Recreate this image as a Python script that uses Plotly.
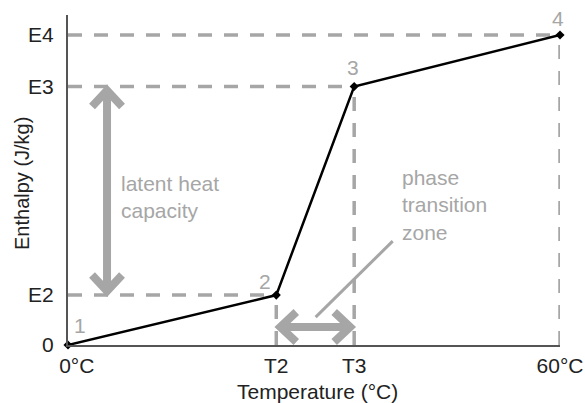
import plotly.graph_objects as go

# ---- data ----
temp_keys = ["\u00a0\u00a0\u00a00°C", "T2", "T3", "60°C"]
temperature = [0, 25.4, 34.9, 60]
enthalpy_keys = ["0", "E2", "E3", "E4"]
enthalpy = [0, 16.1, 83.4, 100]
point_labels = ["1", "2", "3", "4"]

# ---- layout constants ----
W, H = 585, 403
ML, MR, MT, MB = 68, 25, 15, 58
X_RANGE = [0, 60]
Y_RANGE = [0, 106.45]
PX_X = (W - ML - MR) / (X_RANGE[1] - X_RANGE[0])
PX_Y = (H - MT - MB) / (Y_RANGE[1] - Y_RANGE[0])

GRAY = "#a6a6a6"
FONT = "Liberation Sans, Arial, sans-serif"

fig = go.Figure()

# dashed guide lines
T0, T2, T3, T4 = temperature
E0, E2, E3, E4 = enthalpy
guides = [
    ([0, T2], [E2, E2]), ([0, T3], [E3, E3]), ([0, T4], [E4, E4]),
    ([T2, T2], [0, E2]), ([T3, T3], [0, E3]), ([T4, T4], [0, E4]),
]
for gx, gy in guides:
    fig.add_trace(go.Scatter(x=gx, y=gy, mode="lines",
                             line=dict(color=GRAY, width=3.5, dash="14px,12px"),
                             hoverinfo="skip", showlegend=False, cliponaxis=False))

# vertical double arrow (latent heat capacity)
AX = 4.76
tip_in = 4
arm_dx, arm_dy = 15, 16
sw = 8
fig.add_trace(go.Scatter(x=[AX, AX], y=[E2 + 3 / PX_Y, E3 - 3 / PX_Y], mode="lines",
                         line=dict(color=GRAY, width=sw), hoverinfo="skip",
                         showlegend=False))
for tip, sgn in [(E3, -1), (E2, 1)]:
    ty = tip + sgn * tip_in / PX_Y
    fig.add_trace(go.Scatter(
        x=[AX - arm_dx / PX_X, AX, AX + arm_dx / PX_X],
        y=[ty + sgn * arm_dy / PX_Y, ty, ty + sgn * arm_dy / PX_Y],
        mode="lines", line=dict(color=GRAY, width=sw), hoverinfo="skip",
        showlegend=False))

# horizontal double arrow (phase transition zone)
AY = 5.8
fig.add_trace(go.Scatter(x=[T2 + 3 / PX_X, T3 - 3 / PX_X], y=[AY, AY], mode="lines",
                         line=dict(color=GRAY, width=sw), hoverinfo="skip",
                         showlegend=False))
for tip, sgn in [(T2, 1), (T3, -1)]:
    tx = tip + sgn * tip_in / PX_X
    fig.add_trace(go.Scatter(
        x=[tx + sgn * arm_dy / PX_X, tx, tx + sgn * arm_dy / PX_X],
        y=[AY + arm_dx / PX_Y, AY, AY - arm_dx / PX_Y],
        mode="lines", line=dict(color=GRAY, width=sw), hoverinfo="skip",
        showlegend=False))

# leader line
fig.add_trace(go.Scatter(x=[30.2, 39.6], y=[9.0, 33.5], mode="lines",
                         line=dict(color=GRAY, width=3), hoverinfo="skip",
                         showlegend=False))

# main enthalpy curve
fig.add_trace(go.Scatter(x=temperature, y=enthalpy, mode="lines+markers",
                         line=dict(color="black", width=2.5),
                         marker=dict(symbol="diamond", size=7, color="black"),
                         showlegend=False, cliponaxis=False))

annotations = []
shifts = [(12, 20), (-11, 14), (-1, 19), (-2, 17)]
for t, e, lab, (dx, dy) in zip(temperature, enthalpy, point_labels, shifts):
    annotations.append(dict(x=t, y=e, text=lab, showarrow=False, xshift=dx, yshift=dy,
                            font=dict(family=FONT, size=21, color=GRAY)))
annotations.append(dict(x=6.2, y=47.7, text="latent heat<br>capacity", showarrow=False,
                        xanchor="left", yanchor="middle", align="left",
                        font=dict(family=FONT, size=21, color=GRAY)))
annotations.append(dict(x=40.5, y=45.2, text="phase<br>transition<br>zone", showarrow=False,
                        xanchor="left", yanchor="middle", align="left",
                        font=dict(family=FONT, size=21, color=GRAY)))
annotations.append(dict(xref="paper", yref="paper", x=(317 - ML) / (W - ML - MR),
                        y=(H - MB - 391) / (H - MT - MB), text="Temperature (°C)",
                        showarrow=False, xanchor="center", yanchor="middle",
                        font=dict(family=FONT, size=21, color="#222")))
annotations.append(dict(xref="paper", yref="paper", x=(22 - ML) / (W - ML - MR),
                        y=(H - MB - 184) / (H - MT - MB), text="Enthalpy (J/kg)",
                        textangle=-90, showarrow=False, xanchor="center", yanchor="middle",
                        font=dict(family=FONT, size=20, color="#222")))

fig.update_layout(
    width=W, height=H, margin=dict(l=ML, r=MR, t=MT, b=MB),
    paper_bgcolor="white", plot_bgcolor="white",
    annotations=annotations,
    xaxis=dict(range=X_RANGE, tickvals=temperature, ticktext=temp_keys,
               showgrid=False, zeroline=False, showline=True, linecolor="#555",
               linewidth=2, ticks="", ticklabelstandoff=1, automargin=False,
               tickfont=dict(family=FONT, size=21, color="#222")),
    yaxis=dict(range=Y_RANGE, tickvals=enthalpy, ticktext=enthalpy_keys,
               showgrid=False, zeroline=False, showline=True, linecolor="#555",
               linewidth=2, ticks="", ticklabelstandoff=8, automargin=False,
               tickfont=dict(family=FONT, size=21, color="#222")),
)

fig.write_html("out.html", config={"displayModeBar": False},
               post_script="document.body.style.margin='0';document.body.style.overflow='hidden';")
